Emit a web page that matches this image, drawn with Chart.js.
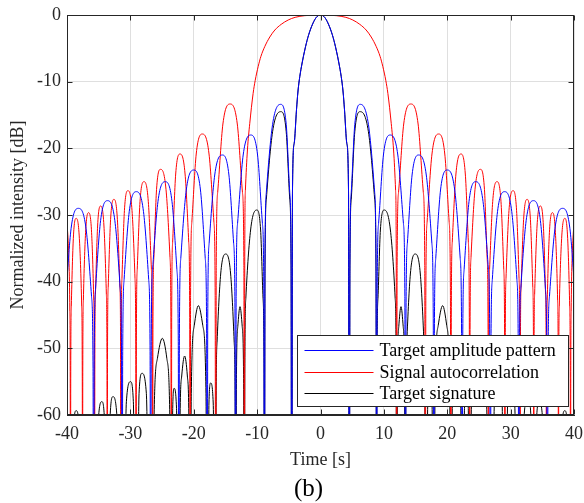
<!DOCTYPE html>
<html>
<head>
<meta charset="utf-8">
<script src="https://cdn.jsdelivr.net/npm/chart.js@4.4.0/dist/chart.umd.min.js"></script>
<style>
  html, body { margin: 0; padding: 0; background: #fff; }
</style>
</head>
<body>
<canvas id="myChart" width="584" height="503"></canvas>
<script>
var seriesNames = ["Target amplitude pattern", "Signal autocorrelation", "Target signature"];
var seriesColors = ["#0000ff", "#ff0000", "#000000"];

// values, -100 marks a null (drops below the axis)
var blueTime = [
  -40.5, -40.41, -40.17, -39.35, -38.2, -37.0, -36.13, -35.89,
  -35.8, -35.71, -35.49, -34.7, -33.6, -32.45, -31.61, -31.39,
  -31.3, -31.21, -30.99, -30.18, -29.05, -27.93, -27.11, -26.89,
  -26.8, -26.71, -26.49, -25.65, -24.5, -23.43, -22.66, -22.44,
  -22.35, -22.26, -22.04, -21.18, -20.0, -18.94, -18.19, -17.97,
  -17.88, -17.79, -17.57, -16.69, -15.5, -14.45, -13.71, -13.49,
  -13.4, -13.31, -13.08, -12.2, -11.0, -9.93, -9.17, -8.94,
  -8.85, -8.76, -8.55, -7.56, -6.3, -5.41, -4.85, -4.64,
  -4.55, -4.42, -4.15, -3.79, -3.55, -3.27, -2.9, -2.48, -2.0, -1.42, -0.7,
  0,
  0.7, 1.42, 2.0, 2.48, 2.9, 3.27, 3.55, 3.79, 4.15, 4.42, 4.55,
  4.64, 4.85, 5.41, 6.3, 7.56, 8.55, 8.76, 8.85,
  8.94, 9.17, 9.93, 11.0, 12.2, 13.08, 13.31, 13.4,
  13.49, 13.71, 14.45, 15.5, 16.69, 17.57, 17.79, 17.88,
  17.97, 18.19, 18.94, 20.0, 21.18, 22.04, 22.26, 22.35,
  22.44, 22.66, 23.43, 24.5, 25.65, 26.49, 26.71, 26.8,
  26.89, 27.11, 27.93, 29.05, 30.18, 30.99, 31.21, 31.3,
  31.39, 31.61, 32.45, 33.6, 34.7, 35.49, 35.71, 35.8,
  35.89, 36.13, 37.0, 38.2, 39.35, 40.17, 40.41, 40.5
];
var blueDb = [
  -100, -53, -42.2, -32, -29, -32, -42.2, -53,
  -100, -51.85, -41.05, -30.85, -27.85, -30.85, -41.05, -51.85,
  -100, -50.5, -39.7, -29.5, -26.5, -29.5, -39.7, -50.5,
  -100, -49, -38.2, -28, -25, -28, -38.2, -49,
  -100, -47.25, -36.45, -26.25, -23.25, -26.25, -36.45, -47.25,
  -100, -45, -34.2, -24, -21, -24, -34.2, -45,
  -100, -42, -31.2, -21, -18, -21, -31.2, -42,
  -100, -37.4, -26.6, -16.4, -13.4, -16.4, -26.6, -37.4,
  -100, -26.25, -19.25, -14.25, -11.4, -9.25, -7.2, -5.25, -3.4, -1.75, -0.4,
  0,
  -0.4, -1.75, -3.4, -5.25, -7.2, -9.25, -11.4, -14.25, -19.25, -26.25, -100,
  -37.4, -26.6, -16.4, -13.4, -16.4, -26.6, -37.4, -100,
  -42, -31.2, -21, -18, -21, -31.2, -42, -100,
  -45, -34.2, -24, -21, -24, -34.2, -45, -100,
  -47.25, -36.45, -26.25, -23.25, -26.25, -36.45, -47.25, -100,
  -49, -38.2, -28, -25, -28, -38.2, -49, -100,
  -50.5, -39.7, -29.5, -26.5, -29.5, -39.7, -50.5, -100,
  -51.85, -41.05, -30.85, -27.85, -30.85, -41.05, -51.85, -100,
  -53, -42.2, -32, -29, -32, -42.2, -53, -100
];

var redTime = [
  -40.6, -40.2, -39.8, -39.55, -39.49,
  -39.45, -39.41, -39.32, -39.0, -38.55, -38.05, -37.68, -37.59,
  -37.55, -37.51, -37.42, -37.07, -36.6, -36.12, -35.78, -35.69,
  -35.65, -35.61, -35.51, -35.17, -34.7, -34.17, -33.79, -33.69,
  -33.65, -33.61, -33.5, -33.12, -32.6, -32.05, -31.65, -31.54,
  -31.5, -31.45, -31.33, -30.94, -30.38, -29.74, -29.27, -29.15,
  -29.1, -29.05, -28.92, -28.48, -27.85, -27.17, -26.68, -26.55,
  -26.5, -26.44, -26.29, -25.87, -25.23, -24.38, -23.75, -23.6,
  -23.54, -23.48, -23.33, -22.85, -22.16, -21.37, -20.79, -20.64,
  -20.58, -20.5, -20.3, -19.61, -18.64, -17.59, -16.82, -16.62,
  -16.54, -16.45, -16.22, -15.4, -14.27, -13.13, -12.32, -12.09,
  -12.0, -11.95, -11.85, -11.53, -11.16, -10.63, -10.3, -9.84, -9.4, -8.8, -8.0, -7.2, -6.2, -5.1, -4.0, -2.5,
  0,
  2.5, 4.0, 5.1, 6.2, 7.2, 8.0, 8.8, 9.4, 9.84, 10.3, 10.63, 11.16, 11.53, 11.85, 11.95, 12.0,
  12.09, 12.32, 13.13, 14.27, 15.4, 16.22, 16.45, 16.54,
  16.62, 16.82, 17.59, 18.64, 19.61, 20.3, 20.5, 20.58,
  20.64, 20.79, 21.37, 22.16, 22.85, 23.33, 23.48, 23.54,
  23.6, 23.75, 24.38, 25.23, 25.87, 26.29, 26.44, 26.5,
  26.55, 26.68, 27.17, 27.85, 28.48, 28.92, 29.05, 29.1,
  29.15, 29.27, 29.74, 30.38, 30.94, 31.33, 31.45, 31.5,
  31.54, 31.65, 32.05, 32.6, 33.12, 33.5, 33.61, 33.65,
  33.69, 33.79, 34.17, 34.7, 35.17, 35.51, 35.61, 35.65,
  35.69, 35.78, 36.12, 36.6, 37.07, 37.42, 37.51, 37.55,
  37.59, 37.68, 38.05, 38.55, 39.0, 39.32, 39.41, 39.45,
  39.49, 39.55, 39.8, 40.2, 40.6
];
var redDb = [
  -34.3, -31.3, -34.3, -44.5, -55.3,
  -100, -54.5, -43.7, -33.5, -30.5, -33.5, -43.7, -54.5,
  -100, -53.65, -42.85, -32.65, -29.65, -32.65, -42.85, -53.65,
  -100, -52.65, -41.85, -31.65, -28.65, -31.65, -41.85, -52.65,
  -100, -51.65, -40.85, -30.65, -27.65, -30.65, -40.85, -51.65,
  -100, -50.35, -39.55, -29.35, -26.35, -29.35, -39.55, -50.35,
  -100, -49, -38.2, -28, -25, -28, -38.2, -49,
  -100, -47.15, -36.35, -26.15, -23.15, -26.15, -36.35, -47.15,
  -100, -44.85, -34.05, -23.85, -20.85, -23.85, -34.05, -44.85,
  -100, -41.85, -31.05, -20.85, -17.85, -20.85, -31.05, -41.85,
  -100, -37.35, -26.55, -16.35, -13.35, -16.35, -26.55, -37.35,
  -100, -36, -26.3, -20.25, -16.25, -11.75, -9.8, -7.75, -6.2, -4.75, -3.3, -2.25, -1.4, -0.75, -0.35, -0.1,
  0,
  -0.1, -0.35, -0.75, -1.4, -2.25, -3.3, -4.75, -6.2, -7.75, -9.8, -11.75, -16.25, -20.25, -26.3, -36, -100,
  -37.35, -26.55, -16.35, -13.35, -16.35, -26.55, -37.35, -100,
  -41.85, -31.05, -20.85, -17.85, -20.85, -31.05, -41.85, -100,
  -44.85, -34.05, -23.85, -20.85, -23.85, -34.05, -44.85, -100,
  -47.15, -36.35, -26.15, -23.15, -26.15, -36.35, -47.15, -100,
  -49, -38.2, -28, -25, -28, -38.2, -49, -100,
  -50.35, -39.55, -29.35, -26.35, -29.35, -39.55, -50.35, -100,
  -51.65, -40.85, -30.65, -27.65, -30.65, -40.85, -51.65, -100,
  -52.65, -41.85, -31.65, -28.65, -31.65, -41.85, -52.65, -100,
  -53.65, -42.85, -32.65, -29.65, -32.65, -42.85, -53.65, -100,
  -54.5, -43.7, -33.5, -30.5, -33.5, -43.7, -54.5, -100,
  -55.3, -44.5, -34.3, -31.3, -34.3
];

var blackTime = [
  -40.5,
  -39.45, -39.0, -38.55, -38.05,
  -37.55,
  -35.65, -35.07, -34.5, -34.07,
  -33.65, -33.2, -32.75, -32.12,
  -31.5,
  -31.3, -30.63, -29.97, -29.53,
  -29.1, -28.63, -28.17, -27.48,
  -26.8,
  -26.5, -26.29, -25.73, -24.96, -24.25, -23.75,
  -23.54, -23.32, -23.1, -22.72,
  -22.35, -22.17, -21.9, -21.44, -21.01, -20.76,
  -20.58, -20.39, -19.92, -19.27, -18.57, -18.07,
  -17.88, -17.6, -17.33, -16.93,
  -16.54, -16.48, -16.32, -15.75, -14.96, -14.18, -13.62, -13.46,
  -13.4, -13.26, -13.05, -12.7, -12.35, -12.14,
  -12.0, -11.94, -11.78, -11.03, -10.06, -9.45, -9.07, -8.91,
  -8.85, -8.76, -8.55, -7.56, -6.27, -5.41, -4.85, -4.64,
  -4.55, -4.42, -4.15, -3.79, -3.55, -3.27, -2.9, -2.48, -2.0, -1.42, -0.7,
  0,
  0.7, 1.42, 2.0, 2.48, 2.9, 3.27, 3.55, 3.79, 4.15, 4.42, 4.55,
  4.64, 4.85, 5.41, 6.27, 7.56, 8.55, 8.76, 8.85,
  8.91, 9.07, 9.45, 10.06, 11.03, 11.78, 11.94, 12.0,
  12.14, 12.35, 12.7, 13.05, 13.26, 13.4,
  13.46, 13.62, 14.18, 14.96, 15.75, 16.32, 16.48, 16.54,
  16.93, 17.33, 17.6, 17.88,
  18.07, 18.57, 19.27, 19.92, 20.39, 20.58,
  20.76, 21.01, 21.44, 21.9, 22.17, 22.35,
  22.72, 23.1, 23.32, 23.54,
  23.75, 24.25, 24.96, 25.73, 26.29, 26.5,
  26.8,
  27.48, 28.17, 28.63, 29.1,
  29.53, 29.97, 30.63, 31.3,
  31.5,
  32.12, 32.75, 33.2, 33.65,
  34.07, 34.5, 35.07, 35.65,
  37.55,
  38.05, 38.55, 39.0, 39.45,
  40.5
];
var blackDb = [
  -100,
  -100, -62.35, -59.35, -62.35,
  -100,
  -100, -61, -58, -61,
  -100, -60.25, -57.25, -60.25,
  -100,
  -100, -58, -55, -58,
  -100, -56.75, -53.75, -56.75,
  -100,
  -100, -61.7, -51.5, -48.5, -51.5, -61.7,
  -100, -59, -56, -59,
  -100, -61.35, -54.15, -51.15, -54.15, -61.35,
  -100, -56.8, -46.6, -43.6, -46.6, -56.8,
  -100, -58.2, -55.2, -58.2,
  -100, -59.85, -49.05, -38.85, -35.85, -38.85, -49.05, -59.85,
  -100, -53.95, -46.75, -43.75, -46.75, -53.95,
  -100, -53.25, -42.45, -32.25, -29.25, -32.25, -42.45, -53.25,
  -100, -38.5, -27.7, -17.5, -14.5, -17.5, -27.7, -38.5,
  -100, -26.25, -19.25, -14.25, -11.4, -9.25, -7.2, -5.25, -3.4, -1.75, -0.4,
  0,
  -0.4, -1.75, -3.4, -5.25, -7.2, -9.25, -11.4, -14.25, -19.25, -26.25, -100,
  -38.5, -27.7, -17.5, -14.5, -17.5, -27.7, -38.5, -100,
  -53.25, -42.45, -32.25, -29.25, -32.25, -42.45, -53.25, -100,
  -53.95, -46.75, -43.75, -46.75, -53.95, -100,
  -59.85, -49.05, -38.85, -35.85, -38.85, -49.05, -59.85, -100,
  -58.2, -55.2, -58.2, -100,
  -56.8, -46.6, -43.6, -46.6, -56.8, -100,
  -61.35, -54.15, -51.15, -54.15, -61.35, -100,
  -59, -56, -59, -100,
  -61.7, -51.5, -48.5, -51.5, -61.7, -100,
  -100,
  -56.75, -53.75, -56.75, -100,
  -58, -55, -58, -100,
  -100,
  -60.25, -57.25, -60.25, -100,
  -61, -58, -61, -100,
  -100,
  -62.35, -59.35, -62.35, -100,
  -100
];

var axisColor = "#262626";
var gridColor = "#dfdfdf";
var serif = "'Liberation Serif', 'Times New Roman', serif";

function toPoints(times, values) {
  return times.map(function (t, i) { return { x: t, y: values[i] }; });
}

// MATLAB style box, inward ticks, legend inside the axes and the (b) caption
var framePlugin = {
  id: "frame",
  afterDraw: function (chart) {
    var ctx = chart.ctx;
    var a = chart.chartArea;
    var xs = chart.scales.x, ys = chart.scales.y;
    ctx.save();

    // legend
    var w = 271, h = 71;
    var lx = Math.round(a.right - 6 - w) + 0.5;
    var ly = Math.round(a.bottom - 9 - h) + 0.5;
    ctx.fillStyle = "#fff";
    ctx.fillRect(lx, ly, w, h);
    ctx.strokeStyle = axisColor;
    ctx.lineWidth = 1;
    ctx.strokeRect(lx, ly, w, h);
    ctx.font = "18px " + serif;
    ctx.textBaseline = "middle";
    ctx.textAlign = "left";
    chart.data.datasets.forEach(function (ds, i) {
      var ry = Math.round(ly + 14.5 + i * 21.5) + 0.5;
      ctx.strokeStyle = ds.borderColor;
      ctx.beginPath();
      ctx.moveTo(lx + 7, ry);
      ctx.lineTo(lx + 76, ry);
      ctx.stroke();
      ctx.fillStyle = "#000";
      ctx.fillText(ds.label, lx + 82, ry + 1);
    });

    // box
    ctx.strokeStyle = axisColor;
    ctx.lineWidth = 1;
    var L = Math.round(a.left) + 0.5, R = Math.round(a.right) - 0.5;
    var T = Math.round(a.top) + 0.5, B = Math.round(a.bottom) - 0.5;
    ctx.strokeRect(L, T, R - L, B - T);
    ctx.beginPath();
    xs.ticks.forEach(function (t) {
      var px = Math.round(xs.getPixelForValue(t.value)) + 0.5;
      ctx.moveTo(px, B); ctx.lineTo(px, B - 5);
      ctx.moveTo(px, T); ctx.lineTo(px, T + 5);
    });
    ys.ticks.forEach(function (t) {
      var py = Math.round(ys.getPixelForValue(t.value)) + 0.5;
      ctx.moveTo(L, py); ctx.lineTo(L + 5, py);
      ctx.moveTo(R, py); ctx.lineTo(R - 5, py);
    });
    ctx.stroke();

    // caption sits a little left of the axis centre
    ctx.fillStyle = "#000";
    ctx.font = "25px " + serif;
    ctx.textAlign = "center";
    ctx.fillText("(b)", (a.left + a.right) / 2 - 12, 489);
    ctx.restore();
  }
};

new Chart("myChart", {
  type: "line",
  data: {
    datasets: [
      { label: seriesNames[0], data: toPoints(blueTime, blueDb), borderColor: seriesColors[0] },
      { label: seriesNames[1], data: toPoints(redTime, redDb), borderColor: seriesColors[1] },
      { label: seriesNames[2], data: toPoints(blackTime, blackDb), borderColor: seriesColors[2] }
    ]
  },
  options: {
    responsive: false,
    animation: false,
    layout: { padding: { left: 0, right: 10, top: 15, bottom: 0 } },
    elements: {
      point: { radius: 0 },
      line: { borderWidth: 1, cubicInterpolationMode: "monotone", fill: false }
    },
    plugins: {
      legend: { display: false },
      tooltip: { enabled: false }
    },
    scales: {
      x: {
        type: "linear",
        min: -40,
        max: 40,
        ticks: { stepSize: 10, padding: 8, maxRotation: 0, color: axisColor, font: { family: serif, size: 18 } },
        grid: { color: gridColor, drawTicks: false },
        border: { color: axisColor },
        title: { display: true, text: "Time [s]", color: axisColor, font: { family: serif, size: 18 }, padding: { top: 0, bottom: 32 } },
        afterFit: function (scale) {
          scale.height = 88;
          scale.paddingLeft = 0;
          scale.paddingRight = 0;
        }
      },
      y: {
        min: -60,
        max: 0,
        ticks: { stepSize: 10, padding: 6, color: axisColor, font: { family: serif, size: 18 } },
        grid: { color: gridColor, drawTicks: false },
        border: { color: axisColor },
        title: { display: true, text: "Normalized intensity [dB]", color: axisColor, font: { family: serif, size: 18 }, padding: { top: 7, bottom: 0 } },
        afterFit: function (scale) {
          scale.width = 67;
          scale.paddingTop = 0;
          scale.paddingBottom = 0;
        }
      }
    }
  },
  plugins: [framePlugin]
});
</script>
</body>
</html>
